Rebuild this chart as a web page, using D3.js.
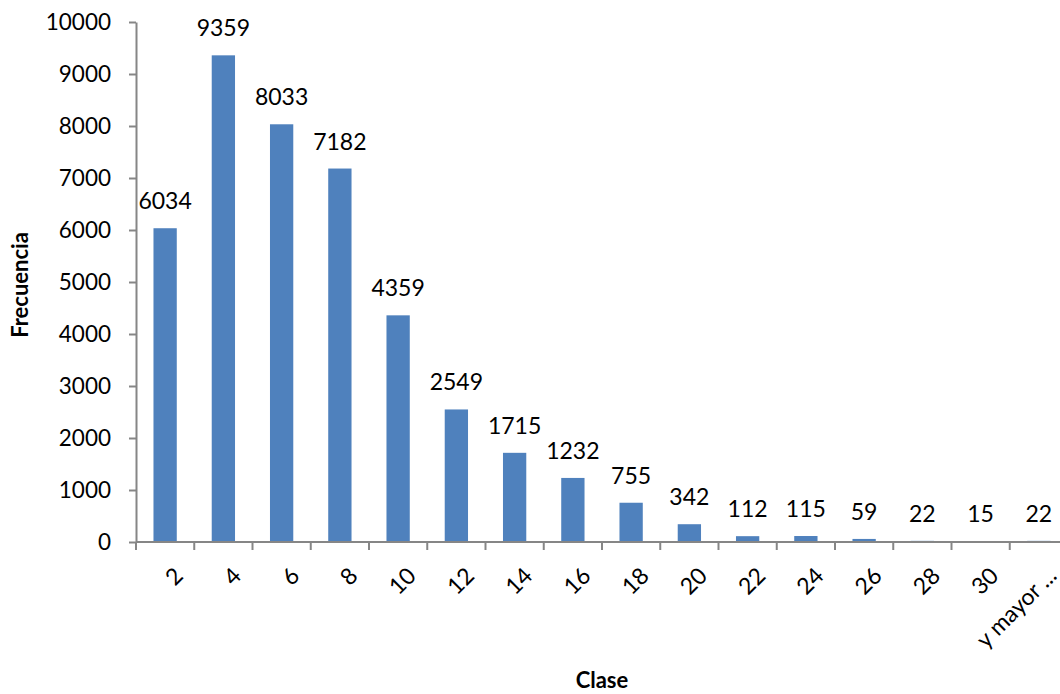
<!DOCTYPE html>
<html>
<head>
<meta charset="utf-8">
<script src="https://cdn.jsdelivr.net/npm/d3@7"></script>
<style>
  body { margin: 0; background: #fff; }
  svg { display: block; font-family: Lato, "Open Sans", sans-serif; }
</style>
</head>
<body>
<div id="chart"></div>
<script>
// Histograma de frecuencias
const clases = ["2", "4", "6", "8", "10", "12", "14", "16", "18", "20", "22", "24", "26", "28", "30", "y mayor ..."];
const frecuencias = [6034, 9359, 8033, 7182, 4359, 2549, 1715, 1232, 755, 342, 112, 115, 59, 22, 15, 22];
const yTicks = [0, 1000, 2000, 3000, 4000, 5000, 6000, 7000, 8000, 9000, 10000];

const width = 1060, height = 694;
const margin = { left: 136, top: 22, bottom: 542 };

const svg = d3.select("#chart").append("svg")
  .attr("width", width)
  .attr("height", height);

const x = d3.scaleBand()
  .domain(clases)
  .range([margin.left, 1068])
  .paddingInner(0.6)
  .paddingOuter(0.3);

const y = d3.scaleLinear()
  .domain([0, 10000])
  .range([margin.bottom, margin.top]);

const axisColor = "#868686";

// bars
svg.append("g").selectAll("rect")
  .data(frecuencias)
  .join("rect")
  .attr("x", (d, i) => x(clases[i]))
  .attr("y", d => y(d))
  .attr("width", x.bandwidth())
  .attr("height", d => y(0) - y(d))
  .attr("fill", "#4f81bd");

// data labels
svg.append("g").selectAll("text")
  .data(frecuencias)
  .join("text")
  .attr("x", (d, i) => x(clases[i]) + x.bandwidth() / 2)
  .attr("y", d => y(d) - 19)
  .attr("text-anchor", "middle")
  .attr("font-size", 23)
  .attr("fill", "#000")
  .text(d => d);

// y axis
const yAxis = svg.append("g")
  .attr("transform", `translate(${margin.left},0)`)
  .call(d3.axisLeft(y).tickValues(yTicks).tickSize(7).tickSizeOuter(0).tickFormat(d3.format("d")));
yAxis.select(".domain").attr("stroke", axisColor).attr("stroke-width", 2);
yAxis.selectAll(".tick line").attr("stroke", axisColor).attr("stroke-width", 2);
yAxis.selectAll(".tick text")
  .attr("x", -25)
  .attr("font-size", 22.5)
  .attr("font-family", "Lato, sans-serif")
  .attr("fill", "#000");

// x axis (ticks between categories)
const xAxisG = svg.append("g").attr("transform", `translate(0,${margin.bottom})`);
xAxisG.append("line")
  .attr("x1", margin.left).attr("x2", 1068)
  .attr("stroke", axisColor).attr("stroke-width", 2);
const step = x.step();
const boundaries = d3.range(clases.length + 1).map(i => x(clases[0]) - x.paddingOuter() * step + i * step);
xAxisG.selectAll(".tk")
  .data(boundaries)
  .join("line")
  .attr("x1", d => d).attr("x2", d => d)
  .attr("y1", 0).attr("y2", 8)
  .attr("stroke", axisColor).attr("stroke-width", 2);

xAxisG.selectAll(".lbl")
  .data(clases)
  .join("text")
  .attr("transform", d => `translate(${x(d) + x.bandwidth() / 2 + 7},${23}) rotate(-45)`)
  .attr("text-anchor", "end")
  .attr("dy", "0.75em")
  .attr("font-size", 23)
  .attr("fill", "#000")
  .text(d => d);

// axis titles
svg.append("text")
  .attr("transform", `translate(28,${(margin.top + margin.bottom) / 2 + 3}) rotate(-90)`)
  .attr("text-anchor", "middle")
  .attr("font-size", 22)
  .attr("font-weight", "bold")
  .text("Frecuencia");

svg.append("text")
  .attr("x", 602)
  .attr("y", 688)
  .attr("text-anchor", "middle")
  .attr("font-size", 22)
  .attr("font-weight", "bold")
  .text("Clase");
</script>
</body>
</html>
